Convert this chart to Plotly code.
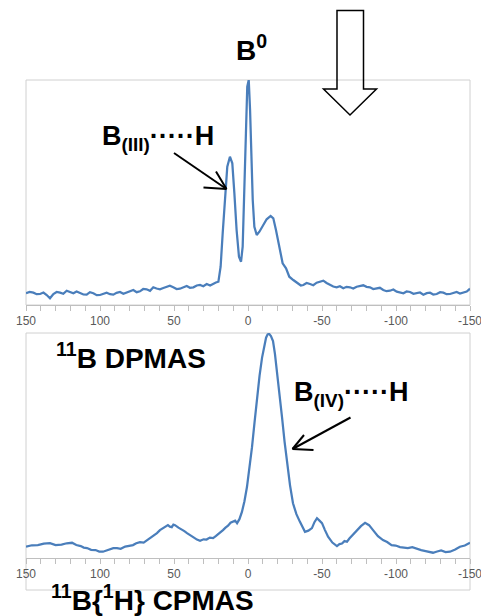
import plotly.graph_objects as go

# ---------------- data (ppm, intensity in arbitrary units) ----------------
dp_ppm = [150.0, 147.5, 145.0, 142.8, 140.5, 138.2, 136.0, 133.8, 131.5, 129.3,
          127.0, 124.8, 122.5, 120.2, 118.0, 115.8, 113.5, 111.2, 109.0, 106.8,
          104.5, 102.2, 100.0, 97.8, 95.5, 93.2, 91.0, 88.8, 86.5, 84.2,
          82.0, 79.8, 77.5, 75.2, 73.0, 70.8, 68.5, 66.2, 64.0, 61.8,
          59.5, 57.2, 55.0, 52.8, 50.5, 48.2, 46.0, 43.7, 41.4, 39.2,
          36.9, 34.6, 32.4, 30.2, 27.9, 25.6, 23.4, 21.7, 20.0, 18.5,
          17.1, 15.5, 14.0, 12.2, 10.6, 9.2, 7.7, 6.1,
          4.7, 3.6, 2.5, 1.4, 0.5, -0.5, -1.4, -2.3, -3.2, -4.3,
          -5.9, -7.7, -10.4, -12.6, -15.3, -17.1, -18.9, -21.2, -23.4, -25.7,
          -27.9, -30.6, -32.3, -34.0, -35.7, -37.4, -39.6, -41.9, -44.1, -46.4,
          -48.6, -50.9, -53.1, -55.4, -57.6, -59.9, -62.1, -64.4, -66.6, -68.9,
          -71.1, -73.4, -75.6, -77.9, -80.1, -82.4, -84.6, -86.9, -89.1, -91.4,
          -93.6, -95.9, -98.2, -100.5, -102.7, -105.0, -107.2, -109.5, -111.8, -114.0,
          -116.2, -118.5, -120.8, -123.0, -125.2, -127.5, -129.8, -132.0, -134.2, -136.5,
          -138.8, -141.0, -143.2, -145.5, -147.8, -150.0]
dp_int = [11.7, 13.0, 12.3, 10.8, 11.0, 12.5, 10.0, 6.7, 11.0, 13.0,
          12.3, 11.2, 14.3, 12.8, 11.7, 13.5, 12.3, 10.5, 10.3, 12.8,
          11.7, 9.8, 10.0, 11.5, 12.3, 10.8, 10.3, 12.2, 13.0, 11.2,
          12.3, 14.0, 15.0, 12.8, 13.7, 16.0, 15.7, 14.2, 17.7, 16.5,
          15.7, 17.0, 18.3, 19.2, 17.7, 16.0, 16.3, 18.0, 19.0, 17.2,
          17.7, 19.5, 20.0, 18.8, 21.0, 19.5, 21.7, 22.5, 23.3, 38.3,
          71.7, 111.7, 138.3, 148.3, 141.7, 111.7, 75.0, 48.3,
          43.3, 58.3, 105.0, 171.7, 218.3, 225.0, 195.0, 145.0, 105.0, 78.3,
          70.0, 73.3, 80.0, 85.7, 89.0, 86.7, 75.0, 58.3, 41.7, 36.7,
          28.3, 25.0, 23.0, 21.7, 19.5, 20.0, 22.0, 21.0, 19.8, 22.3,
          23.5, 24.3, 22.0, 20.0, 18.5, 17.7, 18.8, 16.7, 18.2, 17.7,
          16.5, 18.3, 19.0, 19.7, 18.2, 17.7, 16.0, 16.3, 17.2, 15.0,
          13.8, 14.3, 15.5, 13.3, 12.2, 11.7, 13.5, 13.0, 11.2, 11.7,
          12.5, 10.3, 11.8, 12.3, 10.5, 11.0, 12.8, 12.3, 10.8, 11.0,
          12.2, 13.0, 11.5, 12.3, 13.5, 16.3]

cp_ppm = [150.0, 146.0, 142.0, 138.0, 133.8, 130.0, 126.0, 122.5, 118.9, 116.0,
          113.0, 111.0, 108.8, 106.0, 103.0, 100.5, 98.0, 95.5, 93.0, 91.0,
          88.5, 86.0, 83.0, 80.5, 77.7, 75.5, 73.0, 70.5, 68.2, 66.0,
          63.5, 61.5, 59.5, 58.0, 56.5, 55.3, 54.1, 52.8, 51.5, 50.4,
          49.3, 47.0, 45.0, 43.0, 41.2, 39.0, 36.5, 34.5, 32.4, 30.0,
          28.0, 25.8, 23.6, 21.8, 20.0, 18.5, 16.9, 15.2, 13.5, 11.8,
          10.1, 8.7, 7.4, 5.8, 4.1, 2.4, 0.7, -1.0, -2.7, -4.4,
          -6.1, -7.8, -9.5, -11.0, -12.2, -13.2, -14.2, -15.5, -16.9, -18.2,
          -19.6, -21.3, -23.0, -24.7, -26.4, -28.4, -30.4, -32.7, -35.1, -36.8,
          -38.5, -40.8, -43.2, -44.9, -46.6, -48.3, -50.0, -52.0, -54.1, -57.0,
          -60.1, -61.8, -63.5, -65.2, -66.9, -68.5, -70.0, -71.8, -73.6, -76.3,
          -79.1, -81.8, -84.5, -87.8, -91.2, -94.0, -97.0, -99.8, -102.7, -105.4,
          -108.0, -111.0, -114.2, -117.0, -120.0, -122.5, -125.0, -127.8, -130.5, -133.5,
          -136.5, -140.0, -143.2, -146.5, -150.0]
cp_int = [11.3, 12.8, 13.0, 14.5, 15.0, 13.0, 13.5, 14.8, 15.3, 13.0,
          12.0, 10.5, 10.0, 8.2, 8.0, 6.5, 6.3, 7.5, 8.5, 9.8,
          10.0, 9.2, 11.5, 12.0, 13.0, 14.8, 16.0, 15.5, 18.0, 20.0,
          22.5, 25.0, 28.0, 29.5, 30.5, 32.0, 33.0, 31.5, 31.0, 33.5,
          33.0, 30.5, 29.0, 27.0, 25.0, 22.5, 20.5, 18.5, 17.3, 18.8,
          18.5, 20.5, 20.0, 22.0, 24.0, 26.5, 28.0, 30.5, 32.5, 35.5,
          36.3, 37.5, 35.0, 39.0, 46.3, 57.0, 71.3, 90.0, 111.3, 136.0,
          161.3, 183.0, 201.3, 214.0, 221.3, 224.5, 225.3, 223.0, 218.0, 205.0,
          188.0, 165.0, 141.3, 117.0, 95.0, 73.0, 55.0, 44.0, 36.3, 32.0,
          26.3, 27.5, 30.0, 36.0, 40.0, 37.5, 35.0, 28.0, 21.3, 15.5,
          12.0, 14.0, 14.5, 17.0, 16.3, 19.5, 22.0, 25.5, 28.0, 32.0,
          35.3, 33.0, 28.0, 22.0, 18.0, 16.0, 13.0, 12.5, 11.0, 10.2,
          10.0, 10.8, 9.0, 8.0, 7.0, 6.2, 5.3, 6.5, 7.5, 6.0,
          6.3, 8.5, 11.3, 12.5, 15.3]

tick_pos = [150, 100, 50, 0, -50, -100, -150]
tick_labels = ["150", "100", "50", "0", "-50", "-100", "-150"]

# ---------------- geometry ----------------
W, H = 481, 616
L, R, T, B = 26, 11, 80, 58
PW, PH = W - L - R, H - T - B


def px(x):
    return (x - L) / PW


def py(y):
    return (H - B - y) / PH


LINE = "#4a7ebb"
GRID = "#d0d0d0"
AXC = "#bfbfbf"
FONT = "Liberation Sans, Arial, sans-serif"

fig = go.Figure()
fig.add_trace(go.Scatter(x=dp_ppm, y=dp_int, mode="lines", xaxis="x", yaxis="y",
                         line=dict(color=LINE, width=2.25), showlegend=False,
                         hoverinfo="skip"))
fig.add_trace(go.Scatter(x=cp_ppm, y=cp_int, mode="lines", xaxis="x2", yaxis="y2",
                         line=dict(color=LINE, width=2.25), showlegend=False,
                         hoverinfo="skip"))

xcommon = dict(range=[150, -150], tickmode="array", tickvals=tick_pos, ticktext=tick_labels,
               ticks="outside", ticklen=5, tickcolor=AXC, showline=True, linecolor=AXC,
               linewidth=1, showgrid=False, zeroline=False, automargin=False,
               ticklabeloverflow="allow",
               tickfont=dict(family=FONT, size=12, color="#595959"),
               minor=dict(tickmode="linear", tick0=0, dtick=10, ticks="outside",
                          ticklen=5, tickcolor=AXC, showgrid=False))

fig.update_layout(
    width=W, height=H,
    margin=dict(l=L, r=R, t=T, b=B, pad=0),
    paper_bgcolor="white", plot_bgcolor="white",
    xaxis=dict(domain=[0, 1], anchor="y", **xcommon),
    yaxis=dict(domain=[py(305), py(80)], range=[0, 225], visible=False, fixedrange=True),
    xaxis2=dict(domain=[0, 1], anchor="y2", **xcommon),
    yaxis2=dict(domain=[0, py(333)], range=[0, 226], visible=False, fixedrange=True),
)

# panel borders
fig.add_shape(type="rect", xref="paper", yref="paper", x0=0, x1=1, y0=py(305), y1=py(80),
              line=dict(color=GRID, width=1), layer="below")
fig.add_shape(type="rect", xref="paper", yref="paper", x0=0, x1=1, y0=py(590), y1=py(333),
              line=dict(color=GRID, width=1), layer="below")

# block arrow (hollow)
pts = [(337, 10.5), (363.5, 10.5), (363.5, 89), (376.5, 89), (350, 115), (323.5, 89), (337, 89)]
path = "M " + " L ".join(f"{px(a):.5f},{py(b):.5f}" for a, b in pts) + " Z"
fig.add_shape(type="path", xref="paper", yref="paper", path=path,
              line=dict(color="black", width=1.5), fillcolor="rgba(0,0,0,0)")


def arrow(tail, tip, barb1, barb2):
    for a, b in [(tail, tip), (barb1, tip), (barb2, tip)]:
        fig.add_shape(type="line", xref="paper", yref="paper",
                      x0=px(a[0]), y0=py(a[1]), x1=px(b[0]), y1=py(b[1]),
                      line=dict(color="black", width=2))


arrow((174, 153), (226.5, 189), (216, 171.5), (203.5, 187.5))
arrow((350.5, 417.5), (292.5, 449), (304, 435), (313.5, 450))


def label(text, x, y, xanchor="left", size=28):
    fig.add_annotation(text=text, xref="paper", yref="paper", x=px(x), y=py(y),
                       xanchor=xanchor, yanchor="middle", showarrow=False,
                       font=dict(family=FONT, size=size, color="black"))


label("<b>B<sup>0</sup></b>", 251, 48, xanchor="center")
label("<b>B<sub>(III)</sub>·····H</b>", 100, 138, size=27)
label("<b>B<sub>(IV)</sub>·····H</b>", 292, 394, size=27)
label("<b><sup>11</sup>B DPMAS</b>", 54, 356)
label("<b><sup>11</sup>B{<sup>1</sup>H} CPMAS</b>", 49, 598)

fig.write_html("out.html", config={"displayModeBar": False},
               post_script="document.body.style.margin='0';document.body.style.padding='0';")
